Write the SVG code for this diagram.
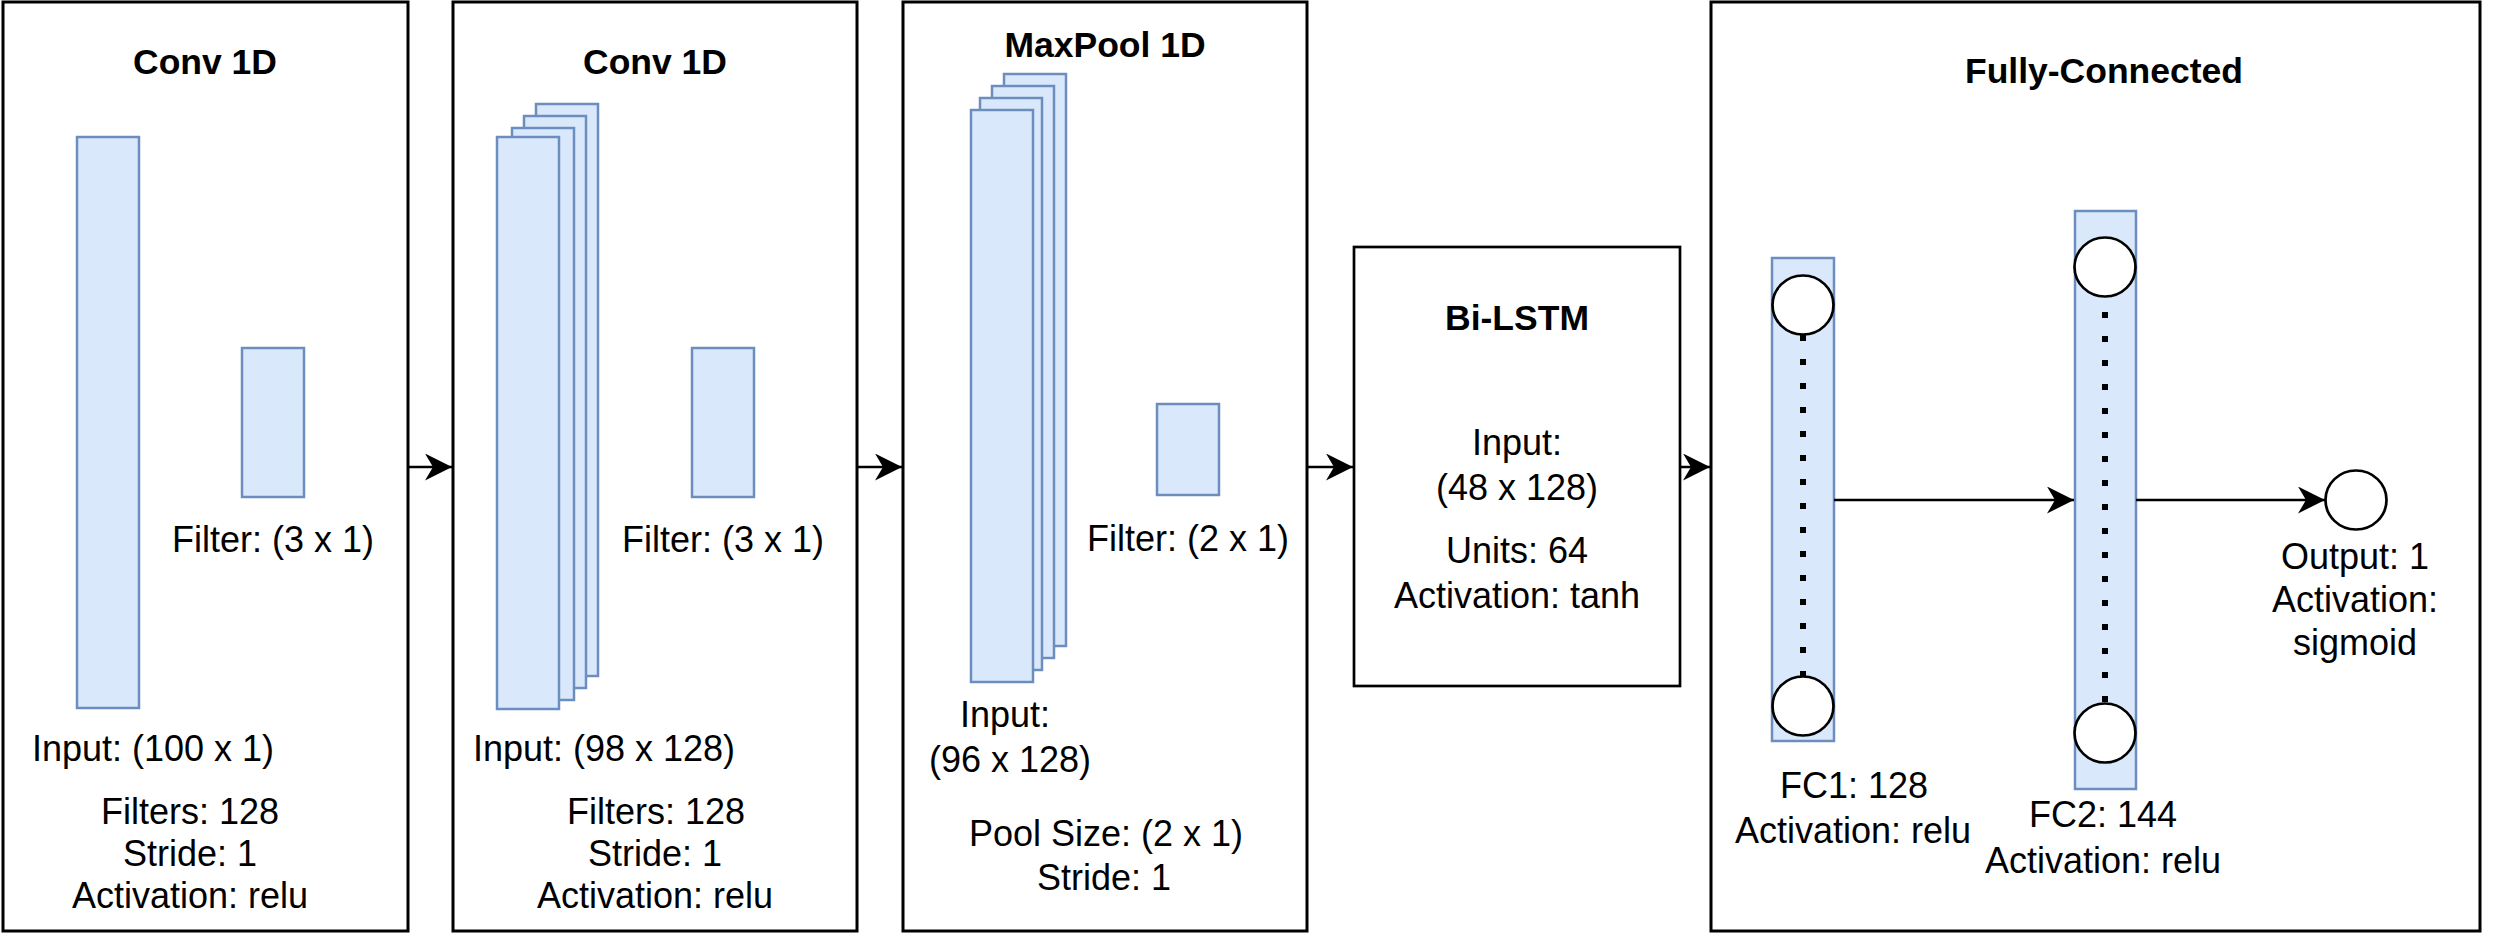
<svg xmlns="http://www.w3.org/2000/svg" width="2493" height="936" viewBox="0 0 2493 936">
<style>
.box{fill:#fff;stroke:#000;stroke-width:3}
.lstm{fill:#fff;stroke:#000;stroke-width:2.7}
.blue{fill:#dae8fc;stroke:#6c8ebf;stroke-width:2.5}
.neuron{fill:#fff;stroke:#000;stroke-width:2.7}
.dots{fill:none;stroke:#000;stroke-width:6;stroke-dasharray:6 18}
.edge{fill:none;stroke:#000;stroke-width:2.5}
text{font-family:"Liberation Sans",Arial,Helvetica,sans-serif;font-size:36px;fill:#000;text-anchor:middle}
.title{font-weight:bold;font-size:35.5px}
</style>
<defs>
<marker id="arr" markerUnits="userSpaceOnUse" markerWidth="28" markerHeight="28" refX="27" refY="13.5" orient="auto">
<path d="M0,0 L27,13.5 L0,27 L8,13.5 Z" fill="#000"/>
</marker>
</defs>

<g id="conv1">
<rect class="box" x="3" y="2" width="405" height="929"/>
<text class="title" x="205" y="74">Conv 1D</text>
<rect class="blue" x="77" y="137" width="62" height="571"/>
<rect class="blue" x="242" y="348" width="62" height="149"/>
<text x="273" y="552">Filter: (3 x 1)</text>
<text x="153" y="761">Input: (100 x 1)</text>
<text x="190" y="824">Filters: 128</text>
<text x="190" y="866">Stride: 1</text>
<text x="190" y="908">Activation: relu</text>
</g>

<g id="conv2">
<rect class="box" x="453" y="2" width="404" height="929"/>
<text class="title" x="655" y="74">Conv 1D</text>
<rect class="blue" x="536" y="104" width="62" height="572"/>
<rect class="blue" x="524" y="116" width="62" height="572"/>
<rect class="blue" x="512" y="128" width="62" height="572"/>
<rect class="blue" x="497" y="137" width="62" height="572"/>
<rect class="blue" x="692" y="348" width="62" height="149"/>
<text x="723" y="552">Filter: (3 x 1)</text>
<text x="604" y="761">Input: (98 x 128)</text>
<text x="656" y="824">Filters: 128</text>
<text x="655" y="866">Stride: 1</text>
<text x="655" y="908">Activation: relu</text>
</g>

<g id="maxpool">
<rect class="box" x="903" y="2" width="404" height="929"/>
<text class="title" x="1105" y="57">MaxPool 1D</text>
<rect class="blue" x="1004" y="74" width="62" height="572"/>
<rect class="blue" x="992" y="86" width="62" height="572"/>
<rect class="blue" x="980" y="98" width="62" height="572"/>
<rect class="blue" x="971" y="110" width="62" height="572"/>
<rect class="blue" x="1157" y="404" width="62" height="91"/>
<text x="1188" y="551">Filter: (2 x 1)</text>
<text x="1005" y="727">Input:</text>
<text x="1010" y="772">(96 x 128)</text>
<text x="1106" y="846">Pool Size: (2 x 1)</text>
<text x="1104" y="890">Stride: 1</text>
</g>

<g id="bilstm">
<rect class="lstm" x="1354" y="247" width="326" height="439"/>
<text class="title" x="1517" y="330">Bi-LSTM</text>
<text x="1517" y="455">Input:</text>
<text x="1517" y="500">(48 x 128)</text>
<text x="1517" y="563">Units: 64</text>
<text x="1517" y="608">Activation: tanh</text>
</g>

<g id="fc">
<rect class="box" x="1711" y="2" width="769" height="929"/>
<text class="title" x="2104" y="83">Fully-Connected</text>
</g>

<g id="fc1">
<rect class="blue" x="1772" y="258" width="62" height="483"/>
<line class="dots" x1="1803" y1="335" x2="1803" y2="676"/>
<ellipse class="neuron" cx="1803" cy="305" rx="30.5" ry="29.5"/>
<ellipse class="neuron" cx="1803" cy="706" rx="30.5" ry="29.5"/>
<text x="1854" y="798">FC1: 128</text>
<text x="1853" y="843">Activation: relu</text>
</g>

<g id="fc2">
<rect class="blue" x="2075" y="211" width="61" height="578"/>
<line class="dots" x1="2105" y1="312" x2="2105" y2="703"/>
<ellipse class="neuron" cx="2105" cy="267" rx="30.5" ry="29.5"/>
<ellipse class="neuron" cx="2105" cy="733" rx="30.5" ry="29.5"/>
<text x="2103" y="827">FC2: 144</text>
<text x="2103" y="873">Activation: relu</text>
</g>

<g id="output">
<ellipse class="neuron" cx="2356" cy="500" rx="30.5" ry="29.5"/>
<text x="2355" y="569">Output: 1</text>
<text x="2355" y="612">Activation:</text>
<text x="2355" y="655">sigmoid</text>
</g>

<g id="connectors">
<line class="edge" x1="408" y1="467" x2="452" y2="467" marker-end="url(#arr)"/>
<line class="edge" x1="857" y1="467" x2="902" y2="467" marker-end="url(#arr)"/>
<line class="edge" x1="1307" y1="467" x2="1353" y2="467" marker-end="url(#arr)"/>
<line class="edge" x1="1680" y1="467" x2="1710" y2="467" marker-end="url(#arr)"/>
<line class="edge" x1="1834" y1="500" x2="2074" y2="500" marker-end="url(#arr)"/>
<line class="edge" x1="2136" y1="500" x2="2325" y2="500" marker-end="url(#arr)"/>
</g>
</svg>
